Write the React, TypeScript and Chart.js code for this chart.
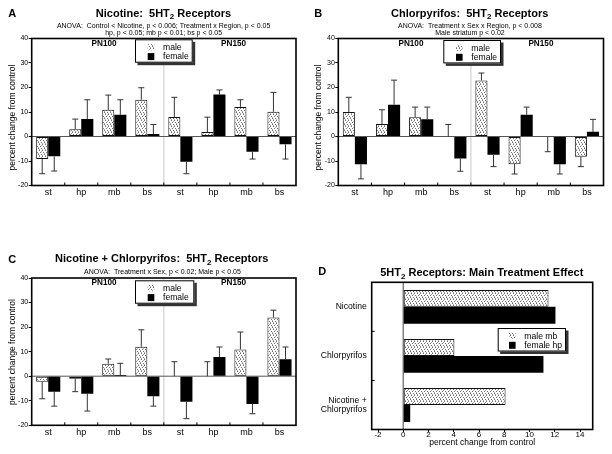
import React, { useEffect, useRef } from 'react';
import { Chart, registerables } from 'chart.js';

Chart.register(...registerables);

const FONT = '"Liberation Sans", Arial, Helvetica, sans-serif';

// ---------------- data ----------------
const regions = ['st', 'hp', 'mb', 'bs', 'st', 'hp', 'mb', 'bs'];
const ageGroups = ['PN100', 'PN150'];
const percentTicks = [-20, -10, 0, 10, 20, 30, 40];
const sexLabels = ['male', 'female'];
const yAxisTitle = 'percent change from control';

// error values are signed: the bar's error line runs from value to value + err
const nicotineMale = [-9.2, 3, 10.9, 15, 8, 1.8, 12, 10.1];
const nicotineMaleErr = [-6, 4.1, 6, 4.9, 8, 6.1, 3, 7.9];
const nicotineFemale = [-8.1, 7.1, 8.9, 1, -10.3, 17.1, -6.2, -3.2];
const nicotineFemaleErr = [-6, 7.9, 6.1, 3.9, -4.9, 1.9, -3, -6];

const cpfMale = [10, 5.1, 7.9, 0, 22.9, -11.3, 0, -8.3];
const cpfMaleErr = [6, 5.8, 4.1, 4.9, 3, -4, -6.2, -4];
const cpfFemale = [-11.3, 13, 7, -9, -7.4, 8.9, -11.3, 1.9];
const cpfFemaleErr = [-6, 10, 5, -5.2, -4.9, 3.1, -4, 5.1];

const comboMale = [-2.3, -1, 5.1, 12, 0, 0, 10.9, 23.9];
const comboMaleErr = [-6.9, -5.3, 1.9, 6.9, 5.9, 5.9, 7.1, 3];
const comboFemale = [-6.3, -7.1, 0.45, -8.2, -10.4, 7.8, -11.3, 6.9];
const comboFemaleErr = [-5.9, -7.1, 4.8, -4, -6.9, 4.1, -4, 5];

const mainTreatments: (string | string[])[] = ['Nicotine', 'Chlorpyrifos', ['Nicotine +', 'Chlorpyrifos']];
const mainMaleMb = [11.5, 4.05, 8.1];
const mainFemaleHp = [12.05, 11.1, 0.55];
const mainTicks = [-2, 0, 2, 4, 6, 8, 10, 12, 14];
const mainLegend = ['male mb', 'female hp'];

const titleA = ['Nicotine:  5HT', '2', ' Receptors'];
const subA = ['ANOVA:  Control < Nicotine, p < 0.006; Treatment x Region, p < 0.05', 'hp, p < 0.05; mb p < 0.01; bs p < 0.05'];
const titleB = ['Chlorpyrifos:  5HT', '2', ' Receptors'];
const subB = ['ANOVA:  Treatment x Sex x Region, p < 0.008', 'Male striatum p < 0.02'];
const titleC = ['Nicotine + Chlorpyrifos:  5HT', '2', ' Receptors'];
const subC = ['ANOVA:  Treatment x Sex, p < 0.02; Male p < 0.05'];
const titleD = ['5HT', '2', ' Receptors: Main Treatment Effect'];

// ---------------- layout ----------------
type VSpec = {
  kind: 'v'; letter: string; x: number; y: number; w: number; h: number;
  area: { left: number; right: number; top: number; bottom: number };
  title: string[]; titleCx: number; titleBase: number;
  subs: string[]; subCx: number; subBases: number[];
  letterX: number; letterBase: number;
  pnBase: number; pnFrac: number[];
  legend: { x: number; y: number; w: number; h: number };
  yTitle: number[];
  male: number[]; maleErr: number[]; female: number[]; femaleErr: number[];
};

const vPanels: VSpec[] = [
  {
    kind: 'v', letter: 'A', x: 0, y: 0, w: 306, h: 227,
    area: { left: 31.7, right: 296, top: 38.5, bottom: 185.5 },
    title: titleA, titleCx: 163.5, titleBase: 16.7,
    subs: subA, subCx: 163.6, subBases: [27.5, 34.5],
    letterX: 8.3, letterBase: 16.7,
    pnBase: 45.7, pnFrac: [0.274, 0.764],
    legend: { x: 135, y: 39.3, w: 57.7, h: 23.4 },
    yTitle: [12.5, 117.5],
    male: nicotineMale, maleErr: nicotineMaleErr, female: nicotineFemale, femaleErr: nicotineFemaleErr,
  },
  {
    kind: 'v', letter: 'B', x: 306, y: 0, w: 306, h: 227,
    area: { left: 32.3, right: 297.5, top: 38.5, bottom: 185.5 },
    title: titleB, titleCx: 163.7, titleBase: 16.7,
    subs: subB, subCx: 164, subBases: [27.5, 34.5],
    letterX: 8.3, letterBase: 16.7,
    pnBase: 45.7, pnFrac: [0.274, 0.764],
    legend: { x: 137.3, y: 40, w: 57.7, h: 23.4 },
    yTitle: [12.2, 117.5],
    male: cpfMale, maleErr: cpfMaleErr, female: cpfFemale, femaleErr: cpfFemaleErr,
  },
  {
    kind: 'v', letter: 'C', x: 0, y: 227, w: 306, h: 227,
    area: { left: 31.7, right: 296, top: 51, bottom: 198.3 },
    title: titleC, titleCx: 161.7, titleBase: 35,
    subs: subC, subCx: 162.5, subBases: [46.7],
    letterX: 8.3, letterBase: 36,
    pnBase: 58.3, pnFrac: [0.274, 0.764],
    legend: { x: 135, y: 53.3, w: 59.3, h: 23.4 },
    yTitle: [12.2, 125],
    male: comboMale, maleErr: comboMaleErr, female: comboFemale, femaleErr: comboFemaleErr,
  },
];

const dPanel = {
  letter: 'D', x: 306, y: 227, w: 306, h: 227,
  area: { left: 65.7, right: 286.7, top: 55.3, bottom: 202.5 },
  title: titleD, titleCx: 175.8, titleBase: 49.3,
  letterX: 12.3, letterBase: 48.3,
  legend: { x: 191.7, y: 101, w: 68.3, h: 23.5 },
  xTitleY: 215.2,
};

// ---------------- helpers ----------------
function makePattern(): CanvasPattern | string {
  const c = document.createElement('canvas');
  c.width = 6; c.height = 6;
  const g = c.getContext('2d');
  if (!g) return '#ddd';
  g.fillStyle = '#fff'; g.fillRect(0, 0, 6, 6);
  g.fillStyle = '#6e6e6e';
  [[0, 0], [3, 0], [1, 2], [4, 2], [2, 4], [5, 4]].forEach(([x, y]) => g.fillRect(x, y, 1, 1));
  g.fillStyle = '#a8a8a8';
  [[5, 1], [2, 3], [0, 5], [3, 5]].forEach(([x, y]) => g.fillRect(x, y, 1, 1));
  return g.createPattern(c, 'repeat') || '#ddd';
}

function line(ctx: CanvasRenderingContext2D, x1: number, y1: number, x2: number, y2: number) {
  ctx.beginPath(); ctx.moveTo(x1, y1); ctx.lineTo(x2, y2); ctx.stroke();
}

function txt(ctx: CanvasRenderingContext2D, s: string, x: number, y: number, size: number, weight = 'normal', align: CanvasTextAlign = 'center', base: CanvasTextBaseline = 'alphabetic') {
  ctx.font = `${weight} ${size}px ${FONT}`;
  ctx.textAlign = align; ctx.textBaseline = base; ctx.fillStyle = '#000';
  ctx.fillText(s, x, y);
}

function subTitle(ctx: CanvasRenderingContext2D, parts: string[], cx: number, base: number) {
  const big = `bold 11px ${FONT}`;
  const small = `bold 8px ${FONT}`;
  const ws = parts.map((p, i) => { ctx.font = i === 1 ? small : big; return ctx.measureText(p).width; });
  let x = cx - ws.reduce((a, b) => a + b, 0) / 2;
  ctx.fillStyle = '#000'; ctx.textAlign = 'left'; ctx.textBaseline = 'alphabetic';
  parts.forEach((p, i) => {
    ctx.font = i === 1 ? small : big;
    ctx.fillText(p, x, i === 1 ? base + 2.5 : base);
    x += ws[i];
  });
}

function drawLegend(ctx: CanvasRenderingContext2D, lg: { x: number; y: number; w: number; h: number }, labels: string[], pattern: CanvasPattern | string, swX: number, txX: number) {
  ctx.save();
  ctx.fillStyle = '#333'; ctx.fillRect(lg.x + 2.5, lg.y + 2.5, lg.w, lg.h);
  ctx.fillStyle = '#fff'; ctx.fillRect(lg.x, lg.y, lg.w, lg.h);
  ctx.strokeStyle = '#000'; ctx.lineWidth = 1; ctx.strokeRect(lg.x + 0.5, lg.y + 0.5, lg.w - 1, lg.h - 1);
  ctx.fillStyle = pattern as any; ctx.fillRect(lg.x + swX, lg.y + 4.8, 6.6, 6.2);
  ctx.fillStyle = '#000'; ctx.fillRect(lg.x + swX, lg.y + 13.8, 6.6, 7);
  txt(ctx, labels[0], lg.x + txX, lg.y + 10.8, 8.6, 'normal', 'left');
  txt(ctx, labels[1], lg.x + txX, lg.y + 19.8, 8.6, 'normal', 'left');
  ctx.restore();
}

function frame(ctx: CanvasRenderingContext2D, a: any) {
  ctx.save();
  ctx.strokeStyle = '#000'; ctx.lineWidth = 1.6;
  ctx.strokeRect(a.left, a.top, a.right - a.left, a.bottom - a.top);
  ctx.restore();
}

function fixW(w: number) {
  return (s: any) => { s.width = w; s.paddingTop = 0; s.paddingBottom = 0; s.paddingLeft = 0; s.paddingRight = 0; };
}
function fixH(h: number) {
  return (s: any) => { s.height = h; s.paddingTop = 0; s.paddingBottom = 0; s.paddingLeft = 0; s.paddingRight = 0; };
}

// ---------------- configs ----------------
function vConfig(p: VSpec, pattern: CanvasPattern | string): any {
  const decor = {
    id: 'decor' + p.letter,
    beforeDatasetsDraw(chart: any) {
      const { ctx, chartArea: a, scales } = chart;
      ctx.save();
      ctx.lineWidth = 1;
      const mx = (a.left + a.right) / 2;
      ctx.strokeStyle = '#c8c8c8';
      line(ctx, mx, a.top, mx, a.bottom);
      const y0 = scales.y.getPixelForValue(0);
      ctx.strokeStyle = '#555';
      line(ctx, a.left, y0, a.right, y0);
      ctx.restore();
    },
    afterDatasetsDraw(chart: any) {
      const { ctx, scales } = chart;
      ctx.save();
      ctx.strokeStyle = '#333'; ctx.lineWidth = 1;
      [[p.male, p.maleErr], [p.female, p.femaleErr]].forEach(([vals, errs], di) => {
        const meta = chart.getDatasetMeta(di);
        vals.forEach((v, j) => {
          const bar = meta.data[j];
          const x = bar.x;
          const yv = scales.y.getPixelForValue(v);
          const ye = scales.y.getPixelForValue(v + errs[j]);
          line(ctx, x, yv, x, ye);
          line(ctx, x - 3, ye, x + 3, ye);
        });
      });
      ctx.restore();
    },
    afterDraw(chart: any) {
      const { ctx, chartArea: a, scales } = chart;
      frame(ctx, a);
      ctx.save();
      ctx.strokeStyle = '#000'; ctx.lineWidth = 1;
      const xs = scales.x;
      for (let i = 1; i < regions.length; i++) {
        const bx = (xs.getPixelForValue(i - 1) + xs.getPixelForValue(i)) / 2;
        line(ctx, bx, a.bottom, bx, a.bottom - 3);
      }
      ctx.restore();
      ageGroups.forEach((g, i) => txt(ctx, g, a.left + p.pnFrac[i] * (a.right - a.left), p.pnBase, 8.2, 'bold'));
      drawLegend(ctx, p.legend, sexLabels, pattern, 12.7, 28);
      txt(ctx, p.letter, p.letterX, p.letterBase, 11, 'bold', 'left');
      subTitle(ctx, p.title, p.titleCx, p.titleBase);
      p.subs.forEach((s, i) => txt(ctx, s, p.subCx, p.subBases[i], 7));
      ctx.save();
      ctx.translate(p.yTitle[0], p.yTitle[1]);
      ctx.rotate(-Math.PI / 2);
      txt(ctx, yAxisTitle, 0, 0, 8.5, 'normal', 'center', 'middle');
      ctx.restore();
    },
  };
  return {
    type: 'bar',
    data: {
      labels: regions,
      datasets: [
        { label: sexLabels[0], data: p.male, backgroundColor: pattern, borderColor: '#111', borderWidth: 1, borderSkipped: false, categoryPercentage: 0.73, barPercentage: 1 },
        { label: sexLabels[1], data: p.female, backgroundColor: '#000', borderWidth: 0, categoryPercentage: 0.73, barPercentage: 1 },
      ],
    },
    options: {
      responsive: false, animation: false, devicePixelRatio: 1, events: [],
      layout: { padding: { left: 0, top: p.area.top, right: p.w - p.area.right, bottom: 0 } },
      plugins: { legend: { display: false }, tooltip: { enabled: false }, title: { display: false } },
      scales: {
        x: {
          grid: { display: false, drawTicks: false }, border: { display: false },
          ticks: { font: { family: FONT, size: 9 }, color: '#000', padding: 2, autoSkip: false, maxRotation: 0 },
          afterFit: fixH(p.h - p.area.bottom),
        },
        y: {
          min: -20, max: 40,
          afterBuildTicks: (s: any) => { s.ticks = percentTicks.map((v) => ({ value: v })); },
          grid: { drawOnChartArea: false, drawTicks: true, tickLength: 3, color: '#000' },
          border: { display: false },
          ticks: { font: { family: FONT, size: 7 }, color: '#000', padding: 0.5 },
          afterFit: fixW(p.area.left),
        },
      },
    },
    plugins: [decor],
  };
}

function dConfig(pattern: CanvasPattern | string): any {
  const p = dPanel;
  const decor = {
    id: 'decorD',
    beforeDatasetsDraw(chart: any) {
      const { ctx, chartArea: a, scales } = chart;
      const x0 = scales.x.getPixelForValue(0);
      ctx.save();
      ctx.strokeStyle = '#808080'; ctx.lineWidth = 1.5;
      line(ctx, x0, a.top, x0, a.bottom);
      ctx.restore();
    },
    afterDraw(chart: any) {
      const { ctx, chartArea: a, scales } = chart;
      frame(ctx, a);
      ctx.save();
      ctx.strokeStyle = '#000'; ctx.lineWidth = 1;
      const ys = scales.y;
      for (let i = 1; i < mainTreatments.length; i++) {
        const by = (ys.getPixelForValue(i - 1) + ys.getPixelForValue(i)) / 2;
        line(ctx, a.left, by, a.left + 3, by);
      }
      ctx.restore();
      drawLegend(ctx, p.legend, mainLegend, pattern, 11.3, 26.6);
      txt(ctx, p.letter, p.letterX, p.letterBase, 11, 'bold', 'left');
      subTitle(ctx, p.title, p.titleCx, p.titleBase);
      txt(ctx, yAxisTitle, (a.left + a.right) / 2, p.xTitleY, 8.5, 'normal', 'center', 'middle');
    },
  };
  return {
    type: 'bar',
    data: {
      labels: mainTreatments,
      datasets: [
        { label: mainLegend[0], data: mainMaleMb, backgroundColor: pattern, borderColor: '#111', borderWidth: 1, borderSkipped: false, categoryPercentage: 0.69, barPercentage: 1 },
        { label: mainLegend[1], data: mainFemaleHp, backgroundColor: '#000', borderWidth: 0, categoryPercentage: 0.69, barPercentage: 1 },
      ],
    },
    options: {
      indexAxis: 'y',
      responsive: false, animation: false, devicePixelRatio: 1, events: [],
      layout: { padding: { left: 0, top: p.area.top, right: p.w - p.area.right, bottom: 0 } },
      plugins: { legend: { display: false }, tooltip: { enabled: false }, title: { display: false } },
      scales: {
        x: {
          type: 'linear', min: -2.5, max: 15,
          afterBuildTicks: (s: any) => { s.ticks = mainTicks.map((v) => ({ value: v })); },
          grid: { drawOnChartArea: false, drawTicks: true, tickLength: 2.5, color: '#000' },
          border: { display: false },
          ticks: { font: { family: FONT, size: 8 }, color: '#000', padding: -2.2 },
          afterFit: fixH(p.h - p.area.bottom),
        },
        y: {
          grid: { display: false, drawTicks: false }, border: { display: false },
          ticks: { font: { family: FONT, size: 8.6, lineHeight: 1.05 }, color: '#000', padding: 5, autoSkip: false },
          afterFit: fixW(p.area.left),
        },
      },
    },
    plugins: [decor],
  };
}

export default function App() {
  const r0 = useRef<HTMLCanvasElement>(null);
  const r1 = useRef<HTMLCanvasElement>(null);
  const r2 = useRef<HTMLCanvasElement>(null);
  const r3 = useRef<HTMLCanvasElement>(null);
  const refs = [r0, r1, r2];

  useEffect(() => {
    const pattern = makePattern();
    const charts: Chart[] = [];
    vPanels.forEach((p, i) => {
      const c = refs[i].current;
      if (c) charts.push(new Chart(c, vConfig(p, pattern)));
    });
    if (r3.current) charts.push(new Chart(r3.current, dConfig(pattern)));
    return () => charts.forEach((c) => c.destroy());
  }, []);

  return (
    <div style={{ position: 'absolute', left: 0, top: 0, width: 612, height: 454, background: '#fff' }}>
      {vPanels.map((p, i) => (
        <canvas key={p.letter} ref={refs[i]} width={p.w} height={p.h}
          style={{ position: 'absolute', left: p.x, top: p.y, width: p.w, height: p.h }} />
      ))}
      <canvas ref={r3} width={dPanel.w} height={dPanel.h}
        style={{ position: 'absolute', left: dPanel.x, top: dPanel.y, width: dPanel.w, height: dPanel.h }} />
    </div>
  );
}
